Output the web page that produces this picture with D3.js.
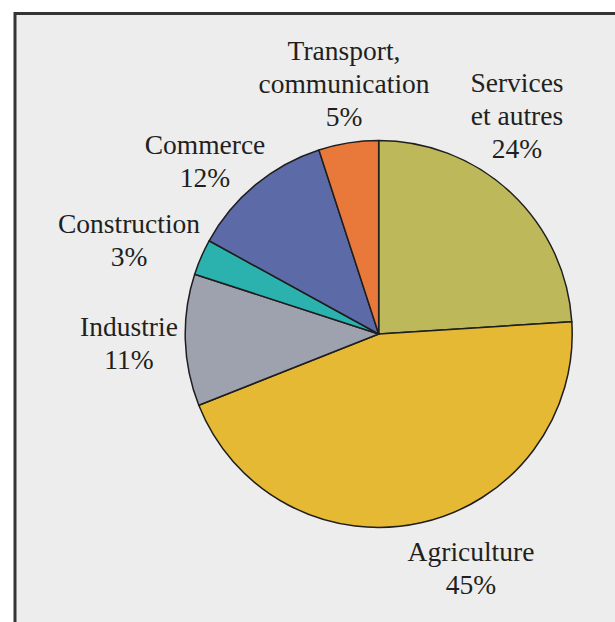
<!DOCTYPE html>
<html>
<head>
<meta charset="utf-8">
<script src="https://cdn.jsdelivr.net/npm/d3@7"></script>
<style>
  html, body { margin: 0; padding: 0; background: #ffffff; }
  svg { display: block; }
</style>
</head>
<body>
<svg id="chart" width="615" height="622"></svg>
<script>
// Sector shares (percent), clockwise from 12 o'clock
const categories = ["Services et autres", "Agriculture", "Industrie", "Construction", "Commerce", "Transport, communication"];
const values = [24, 45, 11, 3, 12, 5];
const colors = ["#bdb95b", "#e5b933", "#9ea1ae", "#2bb1ae", "#5c6ba8", "#e8793a"];
// Label text lines (without the percentage line)
const labelLines = [["Services", "et autres"], ["Agriculture"], ["Industrie"], ["Construction"], ["Commerce"], ["Transport,", "communication"]];

// Label anchor points: centre x and first baseline y
const labelAnchors = [
  { x: 517, y: 92 },
  { x: 471, y: 561 },
  { x: 129, y: 336 },
  { x: 129, y: 233 },
  { x: 205, y: 154 },
  { x: 344, y: 60 }
];

const svg = d3.select("#chart");

// Framed panel
svg.append("rect")
  .attr("x", 15).attr("y", 13.5)
  .attr("width", 700).attr("height", 700)
  .attr("fill", "#ecedec")
  .attr("stroke", "#343434")
  .attr("stroke-width", 3);

const cx = 378.7, cy = 334, r = 193.5;

const data = categories.map((c, i) => ({ name: c, value: values[i], color: colors[i], lines: labelLines[i], anchor: labelAnchors[i] }));

const pie = d3.pie().sort(null).value(d => d.value);
const arc = d3.arc().innerRadius(0).outerRadius(r);

const g = svg.append("g").attr("transform", `translate(${cx},${cy})`);
g.selectAll("path")
  .data(pie(data))
  .join("path")
  .attr("d", arc)
  .attr("fill", d => d.data.color)
  .attr("stroke", "#1e1e1e")
  .attr("stroke-width", 1.5)
  .attr("stroke-linejoin", "round");

// Labels
const lineH = 33;
const labels = svg.append("g")
  .attr("font-family", "'Liberation Serif', 'Times New Roman', serif")
  .attr("font-size", 27.5)
  .attr("fill", "#231f20")
  .attr("text-anchor", "middle");

data.forEach(d => {
  const t = labels.append("text")
    .attr("x", d.anchor.x)
    .attr("y", d.anchor.y);
  const lines = d.lines.concat([d.value + "%"]);
  lines.forEach((ln, j) => {
    t.append("tspan")
      .attr("x", d.anchor.x)
      .attr("dy", j === 0 ? 0 : lineH)
      .text(ln);
  });
});
</script>
</body>
</html>
